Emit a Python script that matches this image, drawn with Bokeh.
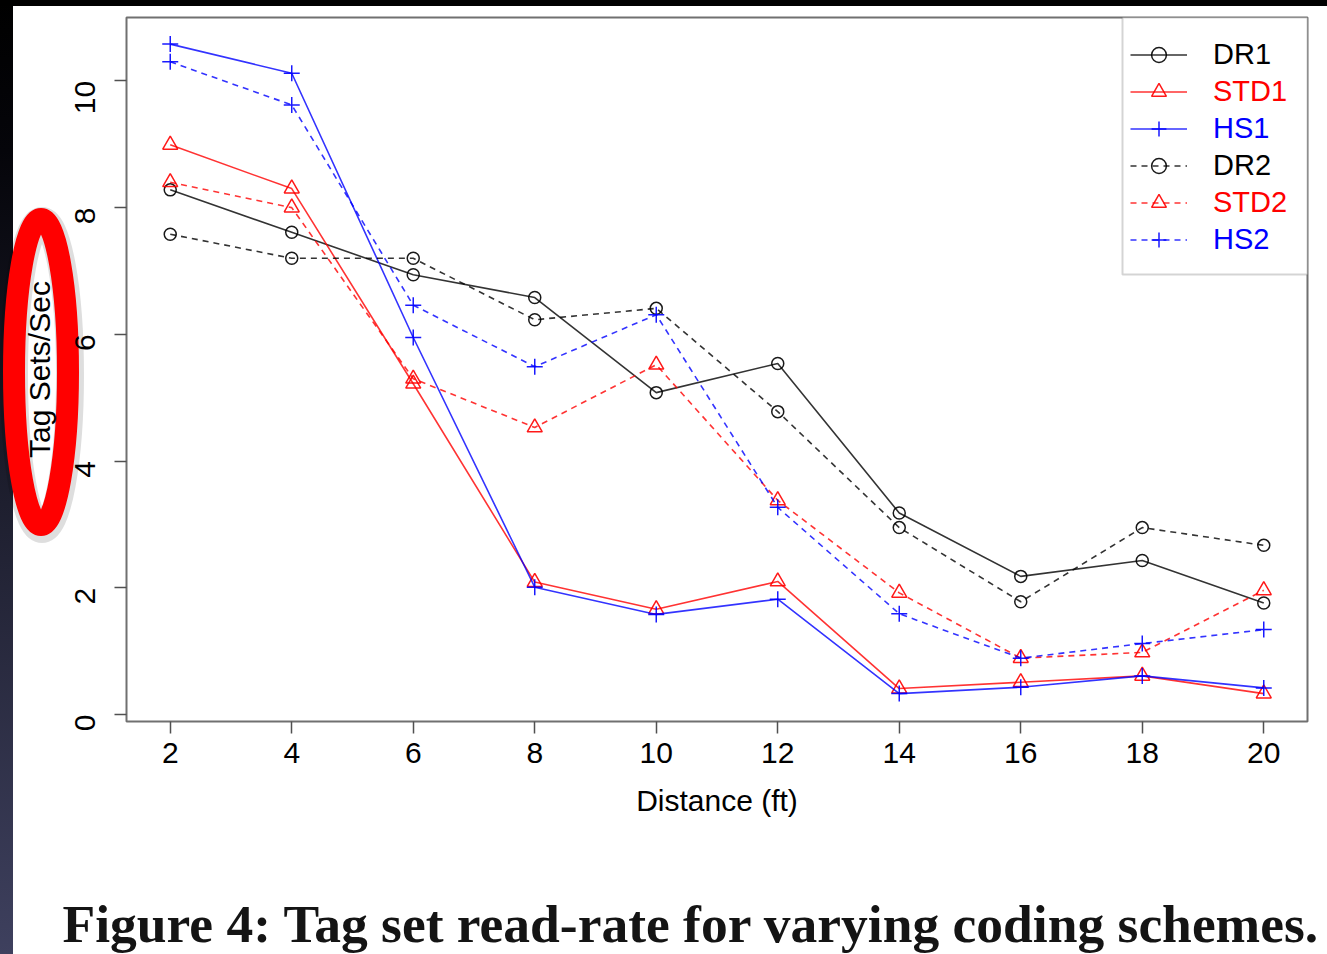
import math
from bokeh.plotting import figure
from bokeh.models import Range1d, Legend, LegendItem, BoxAnnotation, FixedTicker, Title
from bokeh.embed import file_html
from bokeh.resources import INLINE

# ---------------- data ----------------
distance = [2, 4, 6, 8, 10, 12, 14, 16, 18, 20]
dr1 = [8.28, 7.61, 6.94, 6.58, 5.08, 5.54, 3.18, 2.18, 2.43, 1.76]
std1 = [8.99, 8.30, 5.22, 2.09, 1.66, 2.10, 0.41, 0.51, 0.61, 0.33]
hs1 = [10.58, 10.12, 5.95, 2.01, 1.58, 1.82, 0.33, 0.43, 0.61, 0.42]
dr2 = [7.58, 7.20, 7.20, 6.23, 6.41, 4.78, 2.95, 1.78, 2.95, 2.67]
std2 = [8.40, 8.00, 5.30, 4.53, 5.52, 3.38, 1.92, 0.89, 0.98, 1.96]
hs2 = [10.30, 9.62, 6.46, 5.49, 6.31, 3.27, 1.59, 0.89, 1.12, 1.34]
series_names = ["DR1", "STD1", "HS1", "DR2", "STD2", "HS2"]
x_ticks = [2, 4, 6, 8, 10, 12, 14, 16, 18, 20]
y_ticks = [0, 2, 4, 6, 8, 10]
x_label = "Distance (ft)"
y_label = "Tag Sets/Sec"
caption = "Figure 4:  Tag set read-rate for varying coding schemes."

# ---------------- layout geometry ----------------
W, H = 1327, 954
FL, FR, FT, FB = 126, 1307, 17, 721
X0, X1 = 1.28, 20.72
Y0, Y1 = -0.11, 11.0


def dx(px):
    return X0 + (px - FL) * (X1 - X0) / (FR - FL)


def dy(py):
    return Y1 - (py - FT) * (Y1 - Y0) / (FB - FT)


p = figure(width=W, height=H, x_range=Range1d(X0, X1), y_range=Range1d(Y0, Y1),
           output_backend="svg", toolbar_location=None,
           min_border_left=FL, min_border_right=W - FR,
           min_border_top=FT, min_border_bottom=H - FB)
p.grid.visible = False
p.outline_line_color = "#707070"
p.outline_line_width = 2
p.background_fill_color = "white"
p.border_fill_color = None

# screenshot surroundings: red marker ellipse round the y title, black band on top,
# dark gradient strip on the left
ellipse_svg = ("<svg xmlns='http://www.w3.org/2000/svg' width='1327' height='954'>"
               "<ellipse cx='42' cy='375' rx='28' ry='154' fill='none' stroke='black' "
               "stroke-opacity='0.13' stroke-width='28'/>"
               "<ellipse cx='41' cy='372' rx='27' ry='153' fill='none' stroke='%23ff0000' "
               "stroke-width='22'/></svg>")
p.styles = {
    "background": ('url("data:image/svg+xml;utf8,' + ellipse_svg + '") left top / 1327px 954px no-repeat, '
                   "linear-gradient(#000000, #000000) left top / 100% 6px no-repeat, "
                   "linear-gradient(to bottom, #000000 0px, #05050a 150px, #3e405e 954px) "
                   "left top / 13px 100% no-repeat, #ffffff")
}

FONT = "Liberation Sans"
p.xaxis.ticker = FixedTicker(ticks=x_ticks)
p.yaxis.ticker = FixedTicker(ticks=y_ticks)
for ax in (p.xaxis[0], p.yaxis[0]):
    ax.axis_line_color = None
    ax.major_tick_line_color = "#505050"
    ax.major_tick_line_width = 1.5
    ax.major_tick_out = 12
    ax.major_tick_in = 0
    ax.minor_tick_line_color = None
    ax.major_label_text_font = FONT
    ax.major_label_text_font_size = "30px"
    ax.major_label_text_color = "black"
    ax.axis_label_text_font = FONT
    ax.axis_label_text_font_size = "30px"
    ax.axis_label_text_font_style = "normal"
    ax.axis_label_text_color = "black"
p.xaxis.axis_label = x_label
p.yaxis.axis_label = y_label
p.xaxis.major_label_standoff = 9
p.xaxis.axis_label_standoff = 18
p.yaxis.major_label_standoff = 29
p.yaxis.major_label_orientation = math.pi / 2
p.yaxis.axis_label_standoff = 7

# caption below the chart
ctitle = Title(text=caption, align="left", offset=62 - FL, standoff=0, vertical_align="bottom",
               padding={"left": 0, "right": 0, "top": 72, "bottom": 0},
               text_font="Liberation Serif", text_font_style="bold",
               text_font_size="53.5px", text_color="#141414")
p.add_layout(ctitle, "below")

# ---------------- series ----------------
values = [dr1, std1, hs1, dr2, std2, hs2]
colors = ["black", "red", "blue", "black", "red", "blue"]
markers = ["circle", "triangle", "cross", "circle", "triangle", "cross"]
msizes = [12, 15, 16, 12, 15, 16]
dashes = ["solid", "solid", "solid", "6 5", "6 5", "6 5"]

renderers = []
for vals, c, m, s, d in zip(values, colors, markers, msizes, dashes):
    rl = p.line(distance, vals, line_color=c, line_width=1.6, line_dash=d, line_alpha=0.8)
    rs = p.scatter(distance, vals, marker=m, size=s, fill_color=None,
                   line_color=c, line_width=1.5, line_alpha=0.9)
    renderers.append((rl, rs))

# ---------------- legend ----------------
box = BoxAnnotation(left=dx(1122), right=dx(1307), top=dy(17), bottom=dy(274),
                    fill_color="white", fill_alpha=1, line_color="#707070", line_width=2)
p.add_layout(box)
for i, (name, (rl, rs), c) in enumerate(zip(series_names, renderers, colors)):
    cy = 54 + 37 * i
    leg = Legend(items=[LegendItem(label=name, renderers=[rl, rs])],
                 location=(1130 - FL, FB - (cy + 18.5)),
                 padding=0, margin=0, spacing=0, glyph_width=57, glyph_height=37,
                 label_height=37, label_standoff=26,
                 label_text_font=FONT, label_text_font_size="29px",
                 label_text_color=c, border_line_color=None, background_fill_alpha=0)
    p.add_layout(leg)

open("out.html", "w").write(file_html(p, INLINE))
